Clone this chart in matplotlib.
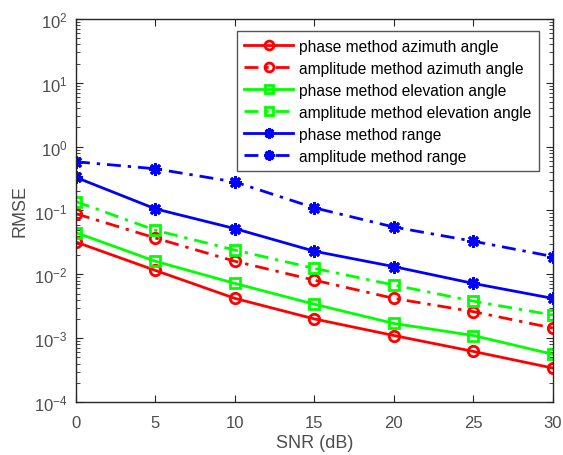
import numpy as np
import matplotlib.pyplot as plt
from matplotlib.ticker import LogLocator, NullFormatter

plt.rcParams['font.family'] = ['Liberation Sans', 'DejaVu Sans']

snr = [0, 5, 10, 15, 20, 25, 30]

phase_az = [0.032, 0.0115, 0.0042, 0.0020, 0.0011, 0.00062, 0.00034]
amp_az = [0.089, 0.037, 0.016, 0.0081, 0.0042, 0.0026, 0.00144]
phase_el = [0.045, 0.016, 0.0072, 0.0034, 0.0017, 0.0011, 0.00056]
amp_el = [0.138, 0.049, 0.024, 0.0124, 0.0068, 0.0038, 0.0023]
phase_rg = [0.33, 0.106, 0.052, 0.023, 0.0132, 0.0072, 0.0042]
amp_rg = [0.58, 0.45, 0.28, 0.11, 0.055, 0.033, 0.019]

labels = ['phase method azimuth angle', 'amplitude method azimuth angle',
          'phase method elevation angle', 'amplitude method elevation angle',
          'phase method range', 'amplitude method range']

fig = plt.figure(figsize=(5.63, 4.56), dpi=100)
ax = fig.add_axes([0.135, 0.1162, 0.847, 0.84])

lw = 2
dd = (0, (5, 2.5, 1.2, 2.5))  # MATLAB-like dash-dot
star = (8, 2, 0)  # asterisk
ax.semilogy(snr, phase_az, '-', marker='o', color='#ff0000', lw=lw, ms=7.5, mfc='none', mew=2, label=labels[0])
ax.semilogy(snr, amp_az, ls=dd, marker='o', color='#ff0000', lw=lw, ms=7.5, mfc='none', mew=2, label=labels[1])
ax.semilogy(snr, phase_el, '-', marker='s', color='#00ff00', lw=lw, ms=6.5, mfc='none', mew=2, label=labels[2])
ax.semilogy(snr, amp_el, ls=dd, marker='s', color='#00ff00', lw=lw, ms=6.5, mfc='none', mew=2, label=labels[3])
ax.semilogy(snr, phase_rg, '-', marker=star, color='#0000ff', lw=lw, ms=9, mew=2, label=labels[4])
ax.semilogy(snr, amp_rg, ls=dd, marker=star, color='#0000ff', lw=lw, ms=9, mew=2, label=labels[5])

ax.set_xlim(0, 30)
ax.set_ylim(1e-4, 1e2)
ax.set_xticks(snr)
ax.yaxis.set_major_locator(LogLocator(base=10, numticks=10))
ax.yaxis.set_minor_locator(LogLocator(base=10, subs=np.arange(2, 10), numticks=20))
ax.yaxis.set_minor_formatter(NullFormatter())

ax.tick_params(which='both', direction='in', top=True, right=True, colors='#262626',
               labelsize=12, labelcolor='#4d4d4d')
ax.tick_params(which='major', length=5)
ax.tick_params(which='minor', length=3)
ax.tick_params(axis='x', pad=9)
ax.tick_params(axis='y', pad=6)
for s in ax.spines.values():
    s.set_color('#262626')
    s.set_linewidth(1)

ax.set_xlabel('SNR (dB)', fontsize=13, color='#4d4d4d', labelpad=3)
ax.set_ylabel('RMSE', fontsize=13, color='#4d4d4d', labelpad=4)

leg = ax.legend(loc='upper right', bbox_to_anchor=(0.971, 0.969), fontsize=11.2,
                fancybox=False, framealpha=1, edgecolor='#555555', handlelength=3.1,
                borderpad=0.5, labelspacing=0.45, handletextpad=0.4, borderaxespad=0,
                markerscale=0.85)
leg.get_frame().set_linewidth(1)

fig.savefig('out.png', dpi=100)
